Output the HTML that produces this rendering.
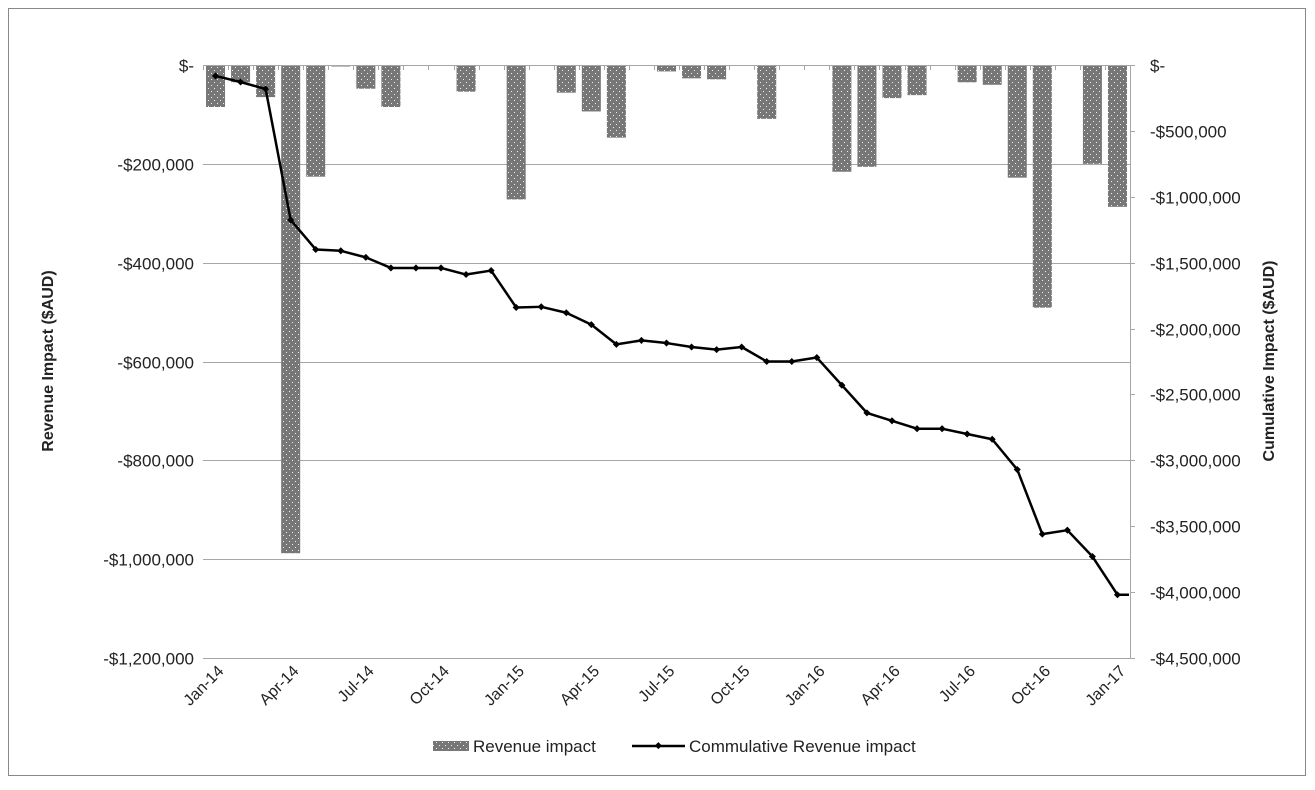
<!DOCTYPE html>
<html><head><meta charset="utf-8"><style>
body{margin:0;background:#fff;}
svg text{font-family:"Liberation Sans",sans-serif;fill:#222;}
</style></head><body>
<svg id="chart" width="1315" height="785" xmlns="http://www.w3.org/2000/svg">
<defs>
<pattern id="dots" width="6" height="6" patternUnits="userSpaceOnUse">
<rect width="6" height="6" fill="#777"/>
<rect x="1" y="1" width="1" height="1" fill="#eee"/>
<rect x="4" y="4" width="1" height="1" fill="#eee"/>
</pattern>
</defs>
<rect x="8.5" y="8.5" width="1297" height="767" fill="#fff" stroke="#888"/>
<g id="grid"></g>
<g id="bars"></g>
<g id="axes"></g>
<g id="line"></g>
<text transform="translate(53,361) rotate(-90)" text-anchor="middle" font-size="16" font-weight="bold">Revenue Impact ($AUD)</text>
<text transform="translate(1274,361) rotate(-90)" text-anchor="middle" font-size="16" font-weight="bold">Cumulative Impact ($AUD)</text>
<g>
<rect x="433" y="741" width="36" height="10" fill="url(#dots)"/>
<text x="473" y="752" font-size="17">Revenue impact</text>
<line x1="632" y1="746" x2="685" y2="746" stroke="#000" stroke-width="2.5"/>
<rect x="655.5" y="743" width="5" height="5" fill="#000" transform="rotate(45 658 746)"/>
<text x="689" y="752" font-size="17">Commulative Revenue impact</text>
</g>
</svg>
<script>
const months = ["Jan-14","Feb-14","Mar-14","Apr-14","May-14","Jun-14","Jul-14","Aug-14","Sep-14","Oct-14","Nov-14","Dec-14","Jan-15","Feb-15","Mar-15","Apr-15","May-15","Jun-15","Jul-15","Aug-15","Sep-15","Oct-15","Nov-15","Dec-15","Jan-16","Feb-16","Mar-16","Apr-16","May-16","Jun-16","Jul-16","Aug-16","Sep-16","Oct-16","Nov-16","Dec-16","Jan-17"];
const revenue = [-85000,-35000,-65000,-988000,-226000,-3000,-48000,-85000,-2000,0,-54000,0,-272000,0,-56000,-94000,-147000,-1000,-13000,-27000,-29000,0,-109000,0,0,-216000,-206000,-67000,-61000,-2000,-35000,-40000,-228000,-491000,0,-200000,-287000];
const cumulative = [-83000,-129000,-182000,-1176000,-1400000,-1410000,-1460000,-1540000,-1540000,-1540000,-1590000,-1560000,-1840000,-1835000,-1880000,-1970000,-2120000,-2090000,-2110000,-2140000,-2160000,-2140000,-2250000,-2250000,-2220000,-2430000,-2640000,-2700000,-2760000,-2760000,-2800000,-2840000,-3070000,-3560000,-3530000,-3730000,-4020000];
const leftTicks = [0,-200000,-400000,-600000,-800000,-1000000,-1200000];
const leftTickLabels = ["$-","-$200,000","-$400,000","-$600,000","-$800,000","-$1,000,000","-$1,200,000"];
const rightTicks = [0,-500000,-1000000,-1500000,-2000000,-2500000,-3000000,-3500000,-4000000,-4500000];
const rightTickLabels = ["$-","-$500,000","-$1,000,000","-$1,500,000","-$2,000,000","-$2,500,000","-$3,000,000","-$3,500,000","-$4,000,000","-$4,500,000"];

const NS="http://www.w3.org/2000/svg";
const X0=203, X1=1130, Y0=65, Y1=658;
const band=(X1-X0)/months.length;
const xC=i=>X0+band*(i+0.5);
const yL=v=>Y0+(v/-1200000)*(Y1-Y0);
const yR=v=>Y0+(v/-4500000)*(Y1-Y0);
function mk(tag,attrs,parent){const e=document.createElementNS(NS,tag);for(const k in attrs)e.setAttribute(k,attrs[k]);parent.appendChild(e);return e;}
const grid=document.getElementById('grid'),bars=document.getElementById('bars'),axes=document.getElementById('axes'),line=document.getElementById('line');

leftTicks.forEach((v,i)=>{
  const y=Math.round(yL(v))+0.5;
  if(i>0){const g=mk('line',{x1:X0,x2:X1,y1:y,y2:y,stroke:'#a6a6a6'},grid);
  
  }
  const t=mk('text',{x:194,y:y+6,'text-anchor':'end','font-size':17},axes);
  t.textContent=leftTickLabels[i];
  
  
});
rightTicks.forEach((v,i)=>{
  const y=Math.round(yR(v))+0.5;
  mk('line',{x1:X1,x2:X1+5,y1:y,y2:y,stroke:'#a6a6a6'},axes);
  const t=mk('text',{x:1150,y:y+6,'text-anchor':'start','font-size':17},axes);
  t.textContent=rightTickLabels[i];
  
  
});
const ra=mk('line',{x1:X1+0.5,x2:X1+0.5,y1:Y0,y2:Y1,stroke:'#a6a6a6'},axes);



revenue.forEach((v,i)=>{
  const y=yL(v), w=19;
  const r=mk('rect',{x:xC(i)-w/2,y:Y0,width:w,height:Math.max(0,y-Y0),fill:'url(#dots)'},bars);
  
  
});

const xa=mk('line',{x1:X0,x2:X1,y1:Y0+0.5,y2:Y0+0.5,stroke:'#a6a6a6'},axes);


for(let i=0;i<=months.length;i++){
  const x=Math.round(X0+band*i)+0.5;
  mk('line',{x1:x,x2:x,y1:Y0,y2:Y0+5,stroke:'#a6a6a6'},axes);
}
months.forEach((m,i)=>{
  if(i%3!==0)return;
  const x=xC(i)+9, y=672;
  const t=mk('text',{x:x,y:y,'text-anchor':'end','font-size':16,transform:`rotate(-45 ${x} ${y})`},axes);
  t.textContent=m;
  
  
});

const pts=cumulative.map((v,i)=>[xC(i),yR(v)]);
const pl=mk('polyline',{points:pts.map(p=>p.join(',')).join(' ')+' '+(X1-1)+','+pts[pts.length-1][1],fill:'none',stroke:'#000','stroke-width':2.5,'stroke-linejoin':'round'},line);


pts.forEach((p,i)=>{
  const d=mk('rect',{x:p[0]-2.5,y:p[1]-2.5,width:5,height:5,fill:'#000',transform:`rotate(45 ${p[0]} ${p[1]})`},line);
  
  
});
</script>
</body></html>
